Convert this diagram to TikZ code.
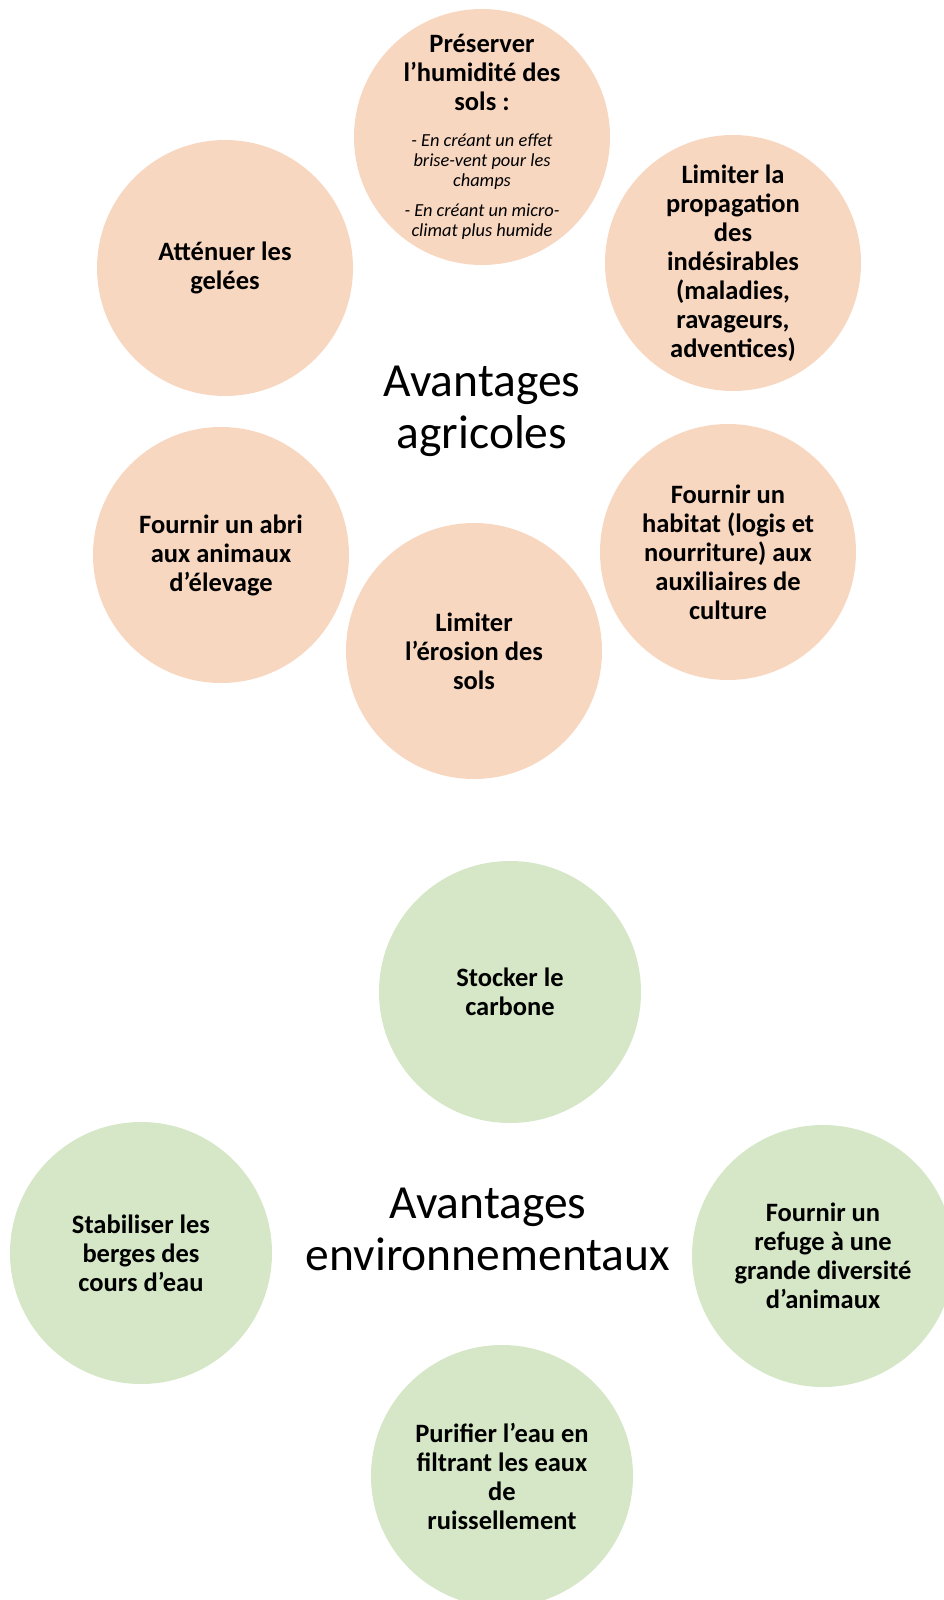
\documentclass[tikz,border=0pt]{standalone}
\usepackage{fontspec}
\setmainfont{Carlito}
\definecolor{peach}{HTML}{F8D7C1}
\definecolor{leaf}{HTML}{D5E7C7}
\tikzset{
  bub/.style={circle, inner sep=0pt, align=center, text=black,
    font=\fontsize{26.5}{29}\selectfont\bfseries},
  agri/.style={bub, fill=peach, minimum size=256pt},
  envi/.style={bub, fill=leaf, minimum size=262pt},
  ttl/.style={align=center, inner sep=0pt, font=\fontsize{47.5}{52}\selectfont},
  boldtxt/.style={align=center, inner sep=0pt, font=\fontsize{26.5}{29}\selectfont\bfseries},
  note/.style={align=center, inner sep=0pt, font=\fontsize{18.4}{20.2}\selectfont\itshape}
}
\begin{document}
\begin{tikzpicture}[x=1pt,y=-1pt]
\useasboundingbox (0,0) rectangle (944,1600);
\clip (0,0) rectangle (944,1600);
% agricultural
\node[agri] (hum) at (482,137) {};
\node[boldtxt] (humt) at (482,72) {Préserver\\l’humidité des\\sols :};
\node[note] (humn) at (482,186.5) {- En créant un effet\\brise-vent pour les\\champs\\[9pt]- En créant un micro-\\climat plus humide};
\node[agri] (gel) at (225,268) {Atténuer les\\gelées};
\node[agri] (ind) at (733,263) {Limiter la\\propagation\\des\\indésirables\\(maladies,\\ravageurs,\\adventices)};
\node[agri] (abri) at (221,555) {Fournir un abri\\aux animaux\\d’élevage};
\node[agri] (ero) at (474,651) {Limiter\\l’érosion des\\sols};
\node[agri] (hab) at (728,552) {Fournir un\\habitat (logis et\\nourriture) aux\\auxiliaires de\\culture};
\node[ttl] (agt) at (482,411) {Avantages\\agricoles};
% environmental
\node[envi] (car) at (510,992) {Stocker le\\carbone};
\node[envi] (ber) at (141,1253) {Stabiliser les\\berges des\\cours d’eau};
\node[envi] (ref) at (823,1256) {Fournir un\\refuge à une\\grande diversité\\d’animaux};
\node[envi] (pur) at (502,1476) {Purifier l’eau en\\filtrant les eaux\\de\\ruissellement};
\node[ttl] (ent) at (488,1229) {Avantages\\environnementaux};
\end{tikzpicture}
\end{document}
